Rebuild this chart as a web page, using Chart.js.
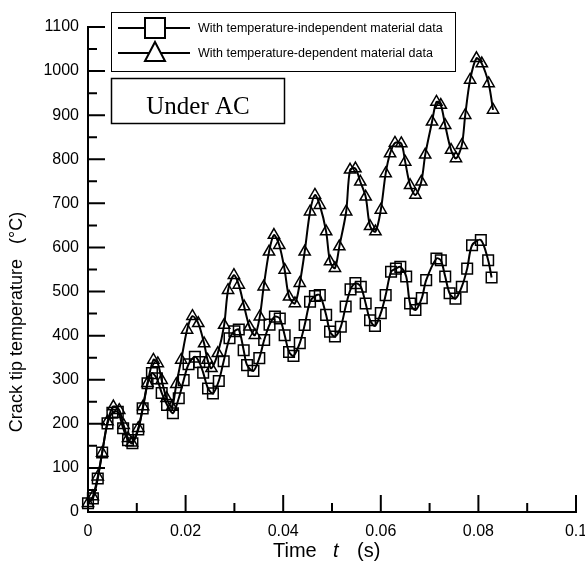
<!DOCTYPE html>
<html>
<head>
<meta charset="utf-8">
<script src="https://cdn.jsdelivr.net/npm/chart.js@4.4.0/dist/chart.umd.min.js"></script>
<style>
    html, body { margin: 0; padding: 0; background: #fff; }
</style>
</head>
<body>
<canvas id="grafico" width="585" height="565"></canvas>
<script>
// time (s) and crack tip temperature (°C)
const tempoIndep = [0.0000, 0.0010, 0.0020, 0.0029, 0.0040, 0.0050, 0.0061, 0.0072, 0.0082, 0.0091,
    0.0103, 0.0112, 0.0122, 0.0131, 0.0141, 0.0151, 0.0162, 0.0174, 0.0186, 0.0196,
    0.0206, 0.0219, 0.0228, 0.0236, 0.0246, 0.0256, 0.0268, 0.0278, 0.0290, 0.0300,
    0.0309, 0.0319, 0.0326, 0.0339, 0.0351, 0.0361, 0.0372, 0.0383, 0.0393, 0.0403,
    0.0412, 0.0421, 0.0434, 0.0444, 0.0455, 0.0465, 0.0475, 0.0488, 0.0496, 0.0506,
    0.0518, 0.0528, 0.0538, 0.0548, 0.0559, 0.0569, 0.0578, 0.0588, 0.0600, 0.0610,
    0.0621, 0.0631, 0.0640, 0.0652, 0.0660, 0.0671, 0.0684, 0.0693, 0.0714, 0.0723,
    0.0732, 0.0741, 0.0753, 0.0766, 0.0777, 0.0787, 0.0805, 0.0820, 0.0827];
const tempIndep = [20, 31, 76, 135, 201, 225, 227, 190, 163, 156,
    187, 235, 292, 315, 303, 270, 243, 224, 258, 299,
    335, 352, 340, 316, 280, 269, 297, 342, 394, 410,
    414, 367, 333, 320, 349, 390, 425, 443, 439, 401,
    363, 354, 383, 424, 477, 490, 492, 447, 409, 398,
    420, 466, 505, 519, 511, 473, 435, 422, 451, 492,
    545, 552, 556, 534, 473, 458, 485, 526, 575, 571,
    534, 496, 484, 511, 552, 605, 617, 571, 532];

const tempoDep = [0.0000, 0.0010, 0.0020, 0.0029, 0.0040, 0.0052, 0.0064, 0.0073, 0.0082, 0.0090,
    0.0103, 0.0113, 0.0122, 0.0134, 0.0143, 0.0151, 0.0161, 0.0172, 0.0181, 0.0191,
    0.0203, 0.0214, 0.0226, 0.0238, 0.0245, 0.0253, 0.0266, 0.0279, 0.0287, 0.0299,
    0.0309, 0.0320, 0.0331, 0.0342, 0.0352, 0.0360, 0.0371, 0.0381, 0.0392, 0.0403,
    0.0412, 0.0424, 0.0434, 0.0444, 0.0455, 0.0465, 0.0475, 0.0488, 0.0496, 0.0506,
    0.0515, 0.0529, 0.0537, 0.0548, 0.0558, 0.0569, 0.0578, 0.0589, 0.0600, 0.0610,
    0.0619, 0.0629, 0.0642, 0.0650, 0.0660, 0.0671, 0.0683, 0.0691, 0.0705, 0.0714,
    0.0723, 0.0732, 0.0744, 0.0754, 0.0766, 0.0773, 0.0783, 0.0796, 0.0807, 0.0821,
    0.0830];
const tempDep = [20, 35, 80, 134, 205, 239, 231, 197, 167, 157,
    190, 239, 292, 345, 337, 299, 258, 238, 290, 345,
    413, 444, 428, 382, 345, 326, 360, 424, 503, 537,
    515, 466, 420, 401, 443, 511, 590, 628, 605, 549,
    488, 473, 519, 590, 681, 719, 696, 636, 568, 553,
    602, 681, 776, 779, 749, 715, 648, 636, 685, 768,
    813, 837, 836, 794, 741, 719, 749, 810, 885, 930,
    923, 877, 821, 802, 832, 900, 980, 1029, 1017, 972,
    912];

const xTicks = [0, 0.02, 0.04, 0.06, 0.08, 0.1];
const xMinor = [0.01, 0.03, 0.05, 0.07, 0.09];
const yTicks = [0, 100, 200, 300, 400, 500, 600, 700, 800, 900, 1000, 1100];
const yMinor = [50, 150, 250, 350, 450, 550, 650, 750, 850, 950, 1050];

const nomes = ['With temperature-independent material data', 'With temperature-dependent material data'];
const caixaTexto = 'Under AC';
const tituloY = 'Crack tip temperature   (°C)';

function pares(xs, ys) {
    return xs.map((x, i) => ({ x: x, y: ys[i] }));
}

// ticks pointing into the plot, legend box, label box and axis titles
const decoracao = {
    id: 'decoracao',
    afterDraw(chart) {
        const ctx = chart.ctx;
        const xs = chart.scales.x;
        const ys = chart.scales.y;
        const area = chart.chartArea;
        ctx.save();
        ctx.strokeStyle = '#000';
        ctx.fillStyle = '#000';
        ctx.lineWidth = 2;
        ctx.beginPath();
        xTicks.forEach(v => { const p = xs.getPixelForValue(v); ctx.moveTo(p, area.bottom); ctx.lineTo(p, area.bottom - 17); });
        xMinor.forEach(v => { const p = xs.getPixelForValue(v); ctx.moveTo(p, area.bottom); ctx.lineTo(p, area.bottom - 9); });
        yTicks.forEach(v => { const p = ys.getPixelForValue(v); ctx.moveTo(area.left, p); ctx.lineTo(area.left + 17, p); });
        yMinor.forEach(v => { const p = ys.getPixelForValue(v); ctx.moveTo(area.left, p); ctx.lineTo(area.left + 9, p); });
        ctx.stroke();

        // legend
        ctx.lineWidth = 1;
        ctx.fillStyle = '#fff';
        ctx.fillRect(111, 12, 344, 60);
        ctx.strokeRect(111.5, 12.5, 344, 59);
        const linhas = [28, 53];
        linhas.forEach((ly, i) => {
            ctx.lineWidth = 2;
            ctx.beginPath();
            ctx.moveTo(118, ly);
            ctx.lineTo(190, ly);
            ctx.stroke();
            ctx.fillStyle = '#fff';
            ctx.beginPath();
            if (i === 0) {
                ctx.rect(145, ly - 10, 20, 20);
            } else {
                ctx.moveTo(155, ly - 11);
                ctx.lineTo(165, ly + 8);
                ctx.lineTo(145, ly + 8);
                ctx.closePath();
            }
            ctx.fill();
            ctx.stroke();
            ctx.fillStyle = '#000';
            ctx.font = '12.5px "Liberation Sans", Arial, sans-serif';
            ctx.textAlign = 'left';
            ctx.textBaseline = 'middle';
            ctx.fillText(nomes[i], 198, ly + 1);
        });

        // "Under AC" box
        ctx.lineWidth = 1.5;
        ctx.fillStyle = '#fff';
        ctx.fillRect(111, 78, 174, 46);
        ctx.strokeRect(111.5, 78.5, 173, 45);
        ctx.fillStyle = '#000';
        ctx.font = '25px "Liberation Serif", "Times New Roman", serif';
        ctx.textAlign = 'center';
        ctx.textBaseline = 'alphabetic';
        ctx.fillText(caixaTexto, 198, 114);

        // y title
        ctx.save();
        ctx.translate(17, 322);
        ctx.rotate(-Math.PI / 2);
        ctx.font = '18px "Liberation Sans", Arial, sans-serif';
        ctx.textAlign = 'center';
        ctx.textBaseline = 'middle';
        ctx.fillText(tituloY, 0, 0);
        ctx.restore();

        // x title with italic t
        const normal = '20px "Liberation Sans", Arial, sans-serif';
        const italico = 'italic 20px "Liberation Sans", Arial, sans-serif';
        const meio = (area.left + area.right) / 2;
        ctx.textAlign = 'left';
        ctx.textBaseline = 'middle';
        ctx.font = normal;
        ctx.fillText('Time', meio - 59, 551);
        ctx.font = italico;
        ctx.fillText('t', meio + 1, 551);
        ctx.font = normal;
        ctx.fillText('(s)', meio + 25, 551);
        ctx.restore();
    }
};

const ctx = document.getElementById('grafico').getContext('2d');

new Chart(ctx, {
    type: 'scatter',
    data: {
        datasets: [{
            label: nomes[0],
            data: pares(tempoIndep, tempIndep),
            showLine: true,
            tension: 0.3,
            borderColor: '#000',
            borderWidth: 2,
            pointStyle: 'rect',
            pointRadius: 7.5,
            pointBorderWidth: 1.5,
            pointBackgroundColor: 'transparent',
            pointBorderColor: '#000',
            clip: false
        }, {
            label: nomes[1],
            data: pares(tempoDep, tempDep),
            showLine: true,
            tension: 0.3,
            borderColor: '#000',
            borderWidth: 2,
            pointStyle: 'triangle',
            pointRadius: 6.5,
            pointBorderWidth: 1.5,
            pointBackgroundColor: 'transparent',
            pointBorderColor: '#000',
            clip: false
        }]
    },
    plugins: [decoracao],
    options: {
        responsive: false,
        animation: false,
        layout: { padding: { top: 27, right: 9, left: 0, bottom: 0 } },
        plugins: {
            legend: { display: false },
            tooltip: { enabled: false }
        },
        scales: {
            x: {
                type: 'linear',
                min: 0,
                max: 0.1,
                afterBuildTicks: s => { s.ticks = xTicks.map(v => ({ value: v })); },
                afterFit: s => { s.height = 53; s.paddingLeft = 0; s.paddingRight = 0; },
                ticks: {
                    color: '#000',
                    padding: 10,
                    maxRotation: 0,
                    font: { family: '"Liberation Sans", Arial, sans-serif', size: 16 },
                    callback: v => String(v)
                },
                grid: { display: false, drawTicks: false },
                border: { display: true, color: '#000', width: 2 }
            },
            y: {
                type: 'linear',
                min: 0,
                max: 1100,
                afterBuildTicks: s => { s.ticks = yTicks.map(v => ({ value: v })); },
                afterFit: s => { s.width = 88; s.paddingTop = 0; s.paddingBottom = 0; },
                ticks: {
                    color: '#000',
                    padding: 9,
                    font: { family: '"Liberation Sans", Arial, sans-serif', size: 16 },
                    callback: v => String(v)
                },
                grid: { display: false, drawTicks: false },
                border: { display: true, color: '#000', width: 2 }
            }
        }
    }
});
</script>
</body>
</html>
